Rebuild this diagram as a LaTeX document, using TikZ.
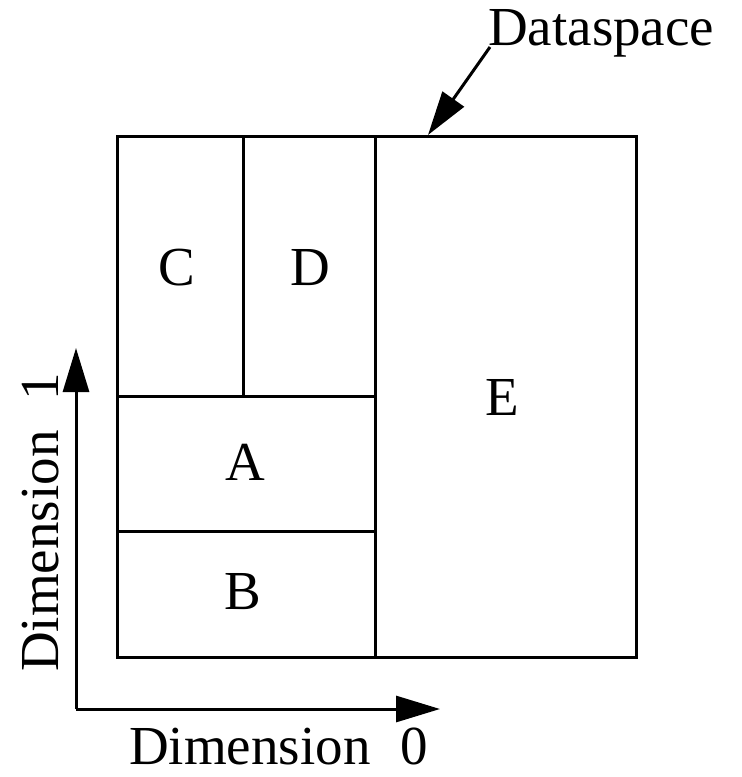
\documentclass[tikz,border=0pt]{standalone}
\usepackage{fontspec}
\setmainfont{Liberation Serif}
\usetikzlibrary{arrows.meta}
\begin{document}
\begin{tikzpicture}[x=1pt,y=-1pt,
  edge/.style={line width=3pt},
  lbl/.style={font=\fontsize{55}{60}\selectfont, inner sep=0pt},
  tip/.style={-{Triangle[length=44pt,width=26pt]}, line width=3pt}]
\useasboundingbox (0,0) rectangle (742,777);
% outer dataspace
\draw[edge] (117,136) rectangle (636,657);
\draw[edge] (375,136) -- (375,657);
\draw[edge] (243,136) -- (243,396);
\draw[edge] (117,396) -- (375,396);
\draw[edge] (117,531) -- (375,531);
% labels
\node[lbl] (C) at (177,268) {C};
\node[lbl] (D) at (310,268) {D};
\node[lbl] (A) at (245,462) {A};
\node[lbl] (B) at (243,592) {B};
\node[lbl] (E) at (502,397) {E};
% dataspace label
\node[lbl, anchor=base west] (ds) at (488,45) {Dataspace};
\coordinate (dsstart) at (490,47);
\coordinate (dstip) at (428,135);
\draw[tip] (dsstart) -- (dstip);
% axes
\coordinate (origin) at (76,709);
\coordinate (x1) at (440,709);
\coordinate (y1) at (76,348);
\draw[tip] (origin) -- (x1);
\draw[tip] (origin) -- (y1);
\node[lbl, anchor=base west, text depth=0pt] (d0) at (129,764) {Dimension\hspace{0.55em}0};
\node[lbl, anchor=base west, rotate=90] (d1) at (58,672) {Dimension\hspace{0.55em}1};
\end{tikzpicture}
\end{document}
